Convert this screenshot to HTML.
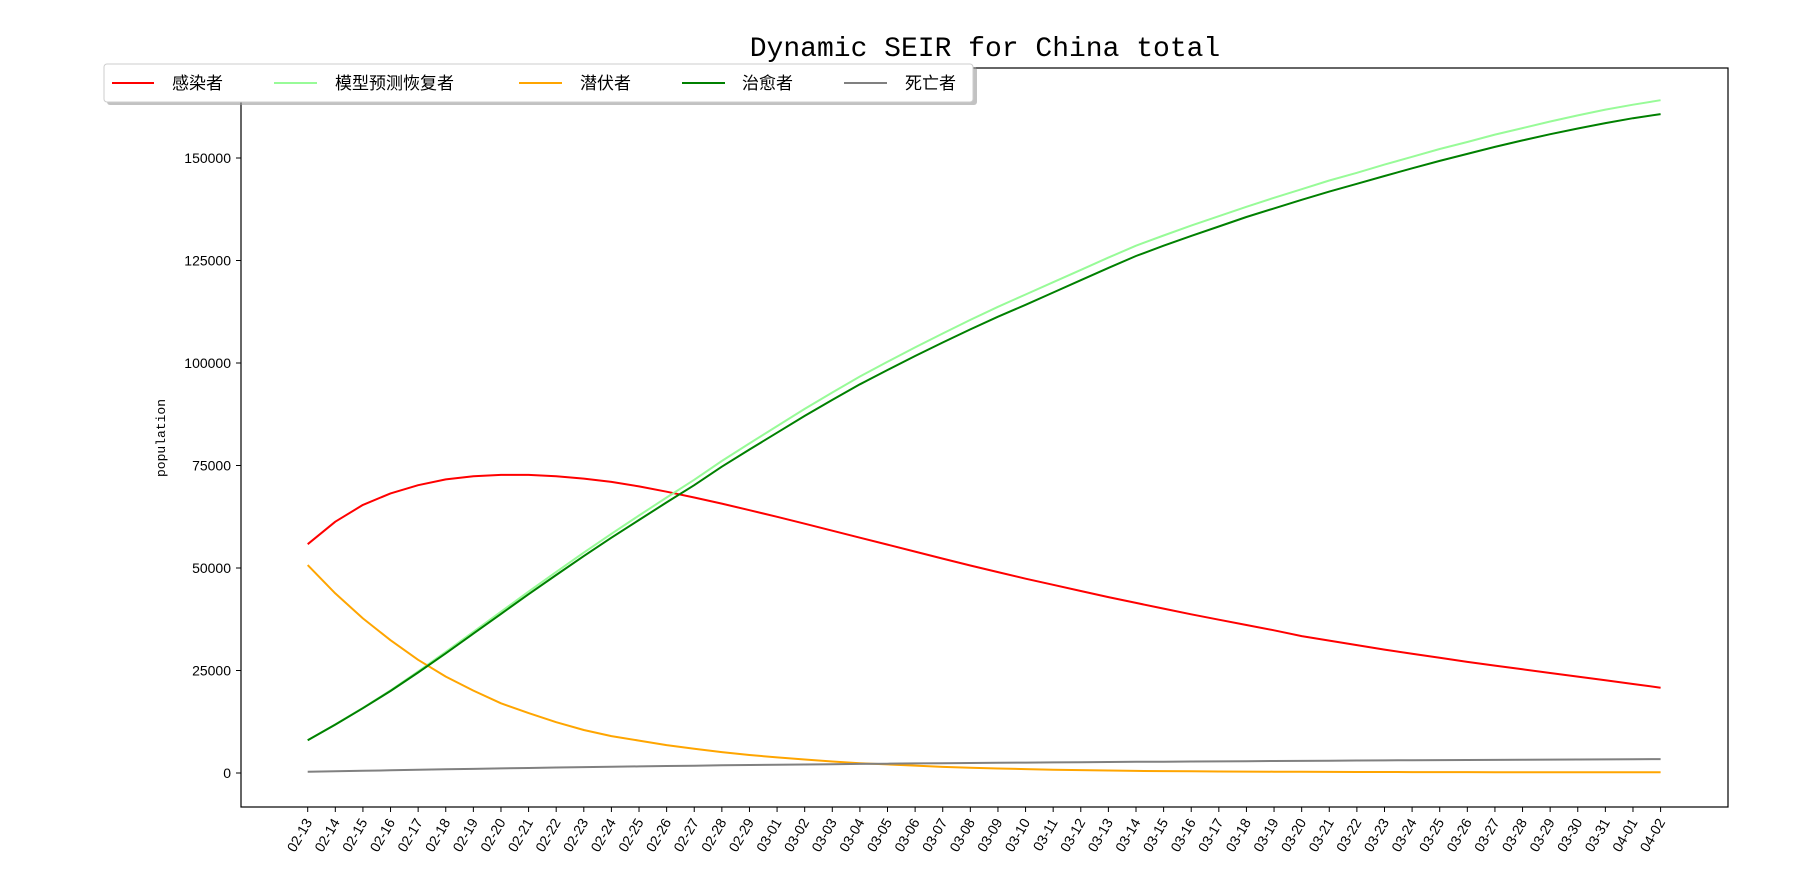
<!DOCTYPE html>
<html><head><meta charset="utf-8"><style>
html,body{margin:0;padding:0;background:#fff;}
svg{display:block;font-family:"Liberation Sans","Noto Sans CJK SC",sans-serif;}
</style></head><body>
<svg id="chart" width="1812" height="871" viewBox="0 0 1812 871" xmlns="http://www.w3.org/2000/svg">
<rect x="0" y="0" width="1812" height="871" fill="#fff"/>
<text x="985" y="56" text-anchor="middle" font-family="Liberation Mono, monospace" font-size="28" fill="#000">Dynamic SEIR for China total</text>
<rect x="241" y="68" width="1487" height="739" fill="none" stroke="#000" stroke-width="1.2"/>
<g id="yaxis"></g>
<g id="xaxis"></g>
<g id="series"></g>
<text x="165" y="438" transform="rotate(-90 165 438)" text-anchor="middle" font-size="13" font-family="Liberation Mono, monospace" fill="#000">population</text>
<g>
<rect x="107" y="67" width="870" height="38" rx="3" fill="#999" opacity="0.6"/>
<rect x="104" y="64" width="869" height="38" rx="3" fill="#fff" stroke="#ccc" stroke-width="1"/>
<g><line x1="112" y1="83" x2="154" y2="83" stroke="#ff0000" stroke-width="2"/><text x="172" y="89" font-size="17" fill="#000">感染者</text></g>
<g><line x1="274" y1="83" x2="317" y2="83" stroke="#98fb98" stroke-width="2"/><text x="335" y="89" font-size="17" fill="#000">模型预测恢复者</text></g>
<g><line x1="519" y1="83" x2="562" y2="83" stroke="#ffa500" stroke-width="2"/><text x="580" y="89" font-size="17" fill="#000">潜伏者</text></g>
<g><line x1="682" y1="83" x2="725" y2="83" stroke="#008000" stroke-width="2"/><text x="742" y="89" font-size="17" fill="#000">治愈者</text></g>
<g><line x1="844" y1="83" x2="887" y2="83" stroke="#808080" stroke-width="2"/><text x="905" y="89" font-size="17" fill="#000">死亡者</text></g>
</g>
</svg>
<script>
const dates = ["02-13","02-14","02-15","02-16","02-17","02-18","02-19","02-20","02-21","02-22","02-23","02-24","02-25","02-26","02-27","02-28","02-29","03-01","03-02","03-03","03-04","03-05","03-06","03-07","03-08","03-09","03-10","03-11","03-12","03-13","03-14","03-15","03-16","03-17","03-18","03-19","03-20","03-21","03-22","03-23","03-24","03-25","03-26","03-27","03-28","03-29","03-30","03-31","04-01","04-02"];
const yTicks = [0,25000,50000,75000,100000,125000,150000];
const infected = [55800,61300,65400,68200,70200,71600,72400,72700,72700,72400,71800,71000,69900,68600,67200,65700,64100,62500,60800,59100,57400,55700,54000,52300,50600,49000,47400,45900,44400,42900,41500,40100,38700,37400,36100,34800,33400,32300,31200,30100,29100,28100,27100,26200,25300,24400,23500,22600,21700,20800];
const exposed = [50700,43800,37700,32400,27600,23500,20100,17000,14600,12400,10500,9000,7900,6800,5900,5100,4400,3800,3300,2800,2400,2100,1800,1500,1300,1100,950,800,700,600,520,460,410,370,340,310,290,270,250,240,230,220,210,200,195,190,185,180,175,170];
const recovered = [8000,11800,15800,20000,24500,29200,34000,38800,43600,48300,52900,57400,61700,66000,70200,74700,78900,83000,87100,91000,94800,98300,101700,105000,108200,111300,114200,117200,120200,123200,126100,128600,131000,133300,135600,137700,139800,141800,143700,145600,147500,149300,151000,152700,154300,155800,157200,158500,159700,160700];
const predicted = [8000,11850,15900,20150,24750,29550,34450,39350,44250,49050,53750,58350,62800,67200,71500,76100,80400,84600,88800,92800,96700,100300,103800,107200,110500,113700,116700,119700,122700,125700,128600,131100,133500,135800,138100,140300,142400,144500,146400,148400,150300,152200,153900,155700,157300,158900,160400,161800,163000,164100];
const deaths = [300,420,540,660,780,900,1010,1120,1230,1330,1430,1530,1620,1710,1790,1870,1940,2010,2080,2150,2210,2270,2330,2390,2440,2490,2540,2590,2640,2680,2720,2760,2800,2840,2880,2920,2960,3000,3040,3080,3110,3140,3170,3200,3230,3260,3290,3320,3360,3400];

const NS = "http://www.w3.org/2000/svg";
const X0 = 307.7, DX = 27.61;
function xPos(i){ return X0 + i*DX; }
function yPos(v){ return 773 - v*(615/150000); }

const yaxis = document.getElementById('yaxis');
yTicks.forEach(t => {
  const y = yPos(t);
  const ln = document.createElementNS(NS,'line');
  ln.setAttribute('x1',236); ln.setAttribute('x2',241); ln.setAttribute('y1',y); ln.setAttribute('y2',y);
  ln.setAttribute('stroke','#000');
  
  
  yaxis.appendChild(ln);
  const tx = document.createElementNS(NS,'text');
  tx.setAttribute('x',231); tx.setAttribute('y',y+5); tx.setAttribute('text-anchor','end');
  tx.setAttribute('font-size','14'); tx.textContent = t;
  
  
  yaxis.appendChild(tx);
});
const xaxis = document.getElementById('xaxis');
dates.forEach((d,i) => {
  const x = xPos(i);
  const ln = document.createElementNS(NS,'line');
  ln.setAttribute('x1',x); ln.setAttribute('x2',x); ln.setAttribute('y1',807); ln.setAttribute('y2',812);
  ln.setAttribute('stroke','#000');
  
  
  xaxis.appendChild(ln);
  const tx = document.createElementNS(NS,'text');
  tx.setAttribute('x',x+5); tx.setAttribute('y',822); tx.setAttribute('text-anchor','end');
  tx.setAttribute('font-size','14');
  tx.setAttribute('transform','rotate(-60 '+(x+5)+' 822)');
  tx.textContent = d;
  
  
  xaxis.appendChild(tx);
});
const sg = document.getElementById('series');
function drawLine(vals, color, name){
  const p = document.createElementNS(NS,'polyline');
  p.setAttribute('points', vals.map((v,i)=>xPos(i).toFixed(1)+','+yPos(v).toFixed(1)).join(' '));
  p.setAttribute('fill','none'); p.setAttribute('stroke',color); p.setAttribute('stroke-width','2');
  p.setAttribute('stroke-linejoin','round');
  
  
  sg.appendChild(p);
}
drawLine(infected,'#ff0000','line-infected');
drawLine(predicted,'#98fb98','line-predicted-recovered');
drawLine(exposed,'#ffa500','line-exposed');
drawLine(recovered,'#008000','line-recovered');
drawLine(deaths,'#808080','line-dead');
</script>
</body></html>
